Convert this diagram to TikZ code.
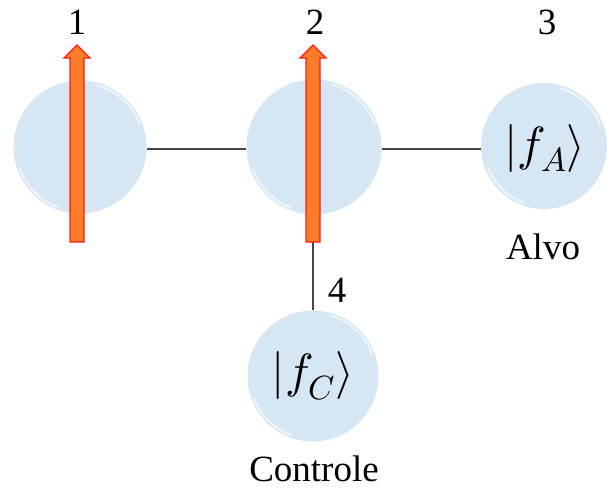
\documentclass[tikz,border=0pt]{standalone}
\usepackage{fontspec}
\usepackage{unicode-math}
\setmainfont{Liberation Serif}
\setmathfont{Latin Modern Math}
\definecolor{sphere}{RGB}{214,230,242}
\definecolor{rim}{RGB}{240,247,252}
\definecolor{arrowfill}{RGB}{252,125,40}
\definecolor{arrowline}{RGB}{250,30,20}
\definecolor{linkcol}{RGB}{70,70,70}
\tikzset{
  ball/.style={circle, fill=sphere, inner sep=0pt, minimum size=#1},
  lbl/.style={font=\fontsize{37}{37}\selectfont, inner sep=0pt},
  ket/.style={font=\fontsize{48}{48}\selectfont, inner sep=0pt},
  spinarrow/.style={fill=arrowfill, draw=arrowline, line width=1.3pt, line join=miter},
  link/.style={draw=linkcol, line width=1.3pt},
  glint/.style={draw=rim, line width=2pt, opacity=0.9}
}
\begin{document}
\begin{tikzpicture}[x=1pt,y=-1pt]
\useasboundingbox (0,0) rectangle (608,490);
% spheres
\node[ball=133pt] (s1) at (80,147) {};
\node[ball=135pt] (s2) at (314,147) {};
\node[ball=126pt] (s3) at (544,146) {};
\node[ball=131pt] (s4) at (313,376) {};
% glints
\foreach \s/\r in {s1/64,s2/65,s3/60,s4/63}{
  \draw[glint] ([shift={(20:\r pt)}]\s.center) arc[start angle=20,end angle=75,radius=\r pt];
  \draw[glint] ([shift={(200:\r pt)}]\s.center) arc[start angle=200,end angle=250,radius=\r pt];
}
% connectors
\draw[link] ([yshift=-2pt]s1.east) -- ([yshift=-2pt]s2.west);
\draw[link] ([yshift=-2pt]s2.east) -- ([yshift=-2pt]s2.east -| s3.west);
\coordinate (b2) at (313,242);
\draw[link] (b2) -- (b2 |- s4.north);
% spin arrows
\draw[spinarrow] (70,242) -- (70,58) -- (64,58) -- (77,45) -- (90,58) -- (84,58) -- (84,242) -- cycle;
\draw[spinarrow] (306,242) -- (306,58) -- (300,58) -- (313,45) -- (326,58) -- (320,58) -- (320,242) -- cycle;
% labels
\node[lbl] (n1) at (77,22) {1};
\node[lbl] (n2) at (315,22) {2};
\node[lbl] (n3) at (547,22) {3};
\node[lbl] (n4) at (337,290) {4};
\node[ket] (k3) at (545,148) {$\lvert f_A\rangle$};
\node[ket] (k4) at (313,376) {$\lvert f_C\rangle$};
\node[lbl] (alvo) at (543,247) {Alvo};
\node[lbl] (ctrl) at (314,469) {Controle};
\end{tikzpicture}
\end{document}
